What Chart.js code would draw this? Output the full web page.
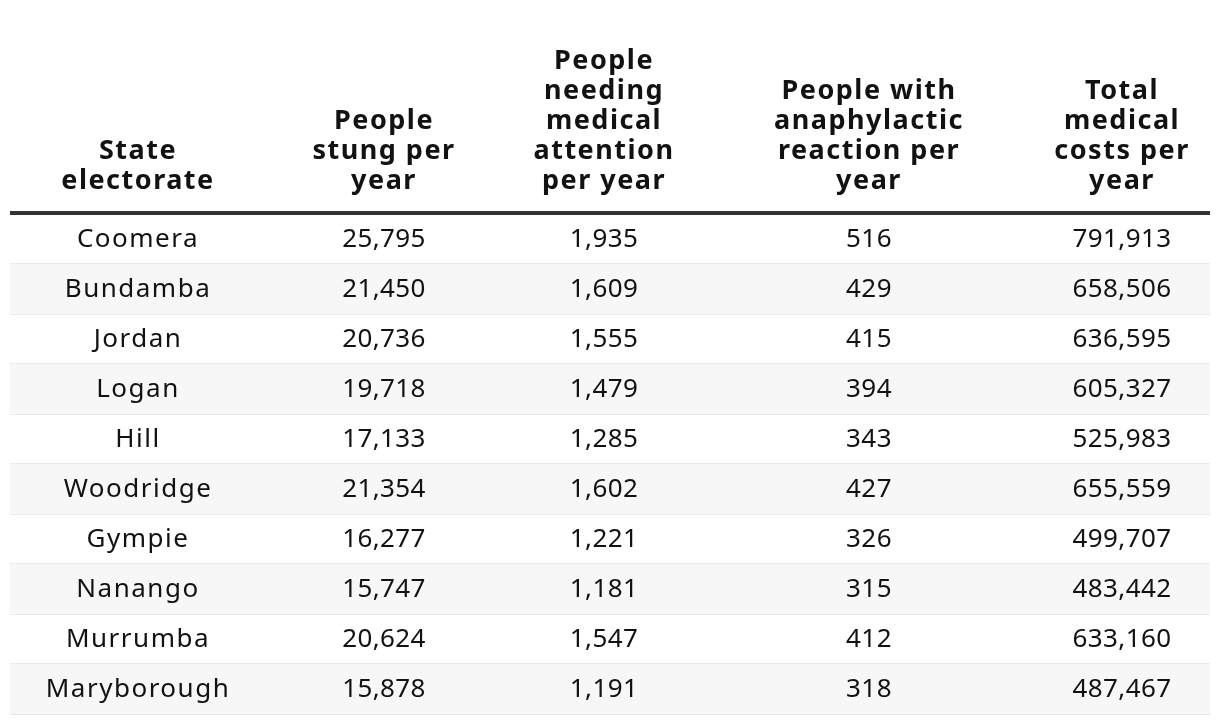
<!DOCTYPE html>
<html>
<head>
<meta charset="utf-8">
<script src="https://cdn.jsdelivr.net/npm/chart.js@4.4.1/dist/chart.umd.min.js"></script>
<style>
  html, body { margin: 0; padding: 0; background: #fff; }
  #wrap { width: 1220px; height: 724px; }
</style>
</head>
<body>
<div id="wrap"><canvas id="myChart"></canvas></div>
<script>
// dữ liệu bảng
var electorates = ['Coomera', 'Bundamba', 'Jordan', 'Logan', 'Hill', 'Woodridge', 'Gympie', 'Nanango', 'Murrumba', 'Maryborough'];
var stung = [25795, 21450, 20736, 19718, 17133, 21354, 16277, 15747, 20624, 15878];
var medical = [1935, 1609, 1555, 1479, 1285, 1602, 1221, 1181, 1547, 1191];
var anaphylactic = [516, 429, 415, 394, 343, 427, 326, 315, 412, 318];
var costs = [791913, 658506, 636595, 605327, 525983, 655559, 499707, 483442, 633160, 487467];
var headers = [
    ['State', 'electorate'],
    ['People', 'stung per', 'year'],
    ['People', 'needing', 'medical', 'attention', 'per year'],
    ['People with', 'anaphylactic', 'reaction per', 'year'],
    ['Total', 'medical', 'costs per', 'year']
];

// vị trí giữa các cột (đơn vị trục x 0..1200)
var colCenters = [127, 373, 593, 858, 1111];
var textFont = '"Noto Sans", sans-serif';

var tablePlugin = {
    id: 'tableText',
    afterDatasetsDraw: function(chart) {
        var c = chart.ctx;
        var x = chart.scales.x, y = chart.scales.y;
        var area = chart.chartArea;
        var columns = [electorates, stung, medical, anaphylactic, costs];
        c.save();
        c.fillStyle = '#121212';
        c.textAlign = 'center';

        // tiêu đề
        c.font = 'bold 27px ' + textFont;
        c.letterSpacing = '1.5px';
        c.textBaseline = 'alphabetic';
        headers.forEach(function(lines, ci) {
            var px = x.getPixelForValue(colCenters[ci]) + 1;
            for (var k = 0; k < lines.length; k++) {
                var base = 189 - (lines.length - 1 - k) * 30;
                c.fillText(lines[k], px, base);
            }
        });

        // đường kẻ đậm dưới tiêu đề
        c.fillStyle = '#333333';
        c.fillRect(area.left, area.top - 3, area.right - area.left, 4);

        // các ô
        c.fillStyle = '#121212';
        c.font = '26px ' + textFont;
        c.textBaseline = 'middle';
        columns.forEach(function(col, ci) {
            var px = x.getPixelForValue(colCenters[ci]) + 1;
            col.forEach(function(v, ri) {
                var isNum = typeof v === 'number';
                c.letterSpacing = isNum ? '0.4px' : '1.5px';
                var txt = isNum ? v.toLocaleString('en-US') : v;
                c.fillText(txt, px, y.getPixelForValue(ri) + 1);
            });
        });
        c.restore();
    }
};

window.onload = function() {
    var ctx = document.getElementById('myChart').getContext('2d');
    var myChart = new Chart(ctx, {
        type: 'bar',
        data: {
            labels: electorates,
            datasets: [{
                // sọc nền xen kẽ
                data: electorates.map(function(_, i) { return i % 2 ? [0, 1200] : null; }),
                backgroundColor: '#f7f7f7',
                borderWidth: 0,
                barPercentage: 1,
                categoryPercentage: 1
            }]
        },
        options: {
            indexAxis: 'y',
            responsive: true,
            maintainAspectRatio: false,
            animation: false,
            layout: { padding: { top: 214, left: 10, right: 10, bottom: 10 } },
            plugins: { legend: { display: false }, tooltip: { enabled: false } },
            scales: {
                x: { display: false, min: 0, max: 1200 },
                y: {
                    display: true,
                    border: { display: false },
                    ticks: { display: false },
                    grid: {
                        drawTicks: false,
                        lineWidth: 2,
                        color: function(c) { return (c.index === 0 || c.index === electorates.length) ? 'rgba(0,0,0,0)' : '#e6e6e6'; }
                    }
                }
            }
        },
        plugins: [tablePlugin]
    });
};
</script>
</body>
</html>
